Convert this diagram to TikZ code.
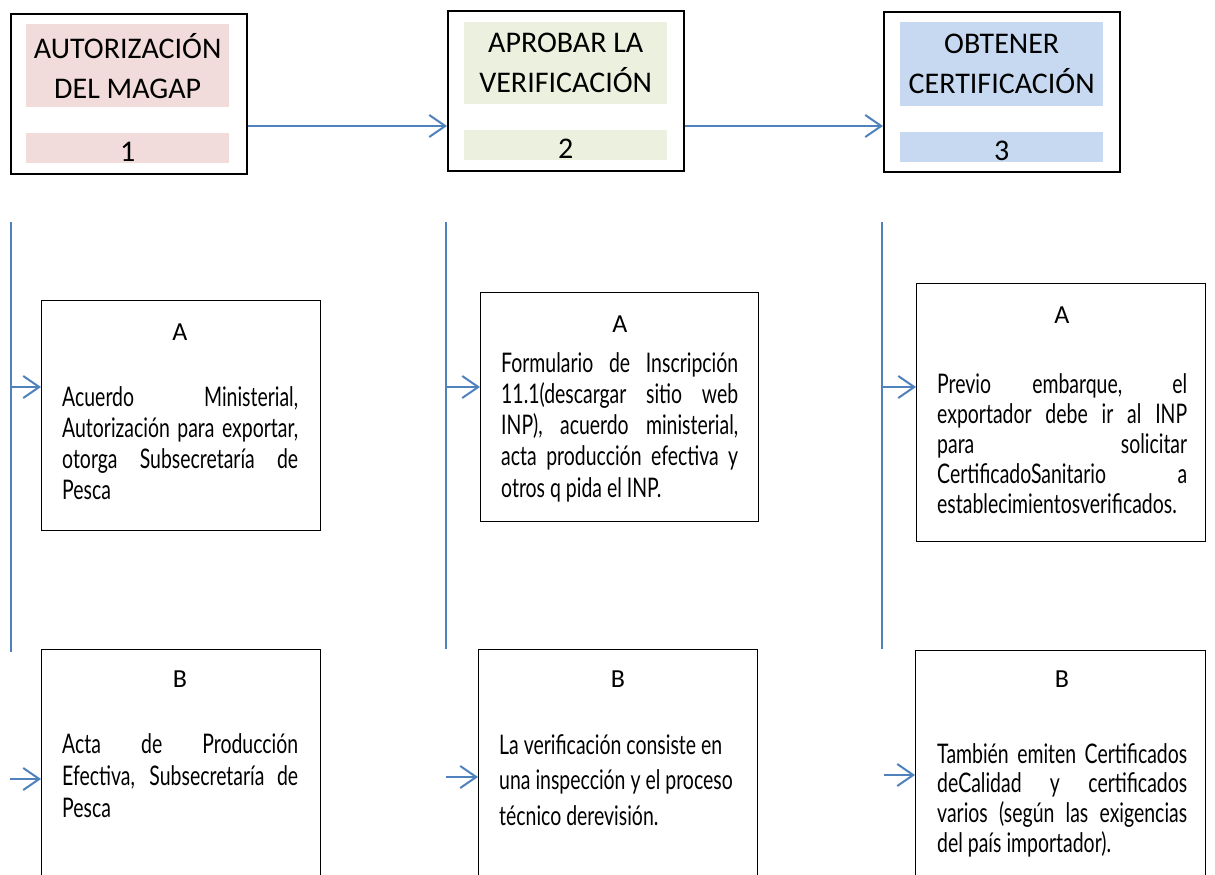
\documentclass[tikz,border=0pt]{standalone}
\usepackage{fontspec}
\setmainfont{Carlito}
\newfontfamily\agency[FakeStretch=0.72]{Lato}
\usetikzlibrary{arrows.meta}
\definecolor{pinkf}{RGB}{242,220,219}
\definecolor{greenf}{RGB}{235,241,222}
\definecolor{bluef}{RGB}{198,217,241}
\definecolor{arrowc}{RGB}{79,129,189}
\newcommand{\jl}[2]{\makebox[#1][s]{#2}}
\newcommand{\txtblock}[3]{\begin{minipage}[t]{#1}\setlength{\parindent}{0pt}\agency\fontsize{27}{#2}\selectfont #3\end{minipage}}
\begin{document}
\begin{tikzpicture}[x=1pt,y=-1pt,
  stage/.style={draw=black, line width=1.6pt, minimum width=236pt, minimum height=160pt, anchor=north west, inner sep=0pt},
  band/.style={anchor=north west, minimum width=203pt, inner sep=0pt, align=center, font=\fontsize{30}{40}\selectfont},
  numband/.style={band, minimum height=30pt, text height=26pt, text depth=0pt},
  flow/.style={draw=arrowc, line width=2pt, -{Straight Barb[length=16pt,width=22pt]}},
  rail/.style={draw=arrowc, line width=2pt},
  card/.style={draw=black, line width=1.4pt, anchor=north west, inner sep=0pt},
  letter/.style={anchor=base, inner sep=0pt, font=\fontsize{26}{30}\selectfont},
  body/.style={anchor=base west, inner sep=0pt}]
\clip (0,0) rectangle (1215,875);
\useasboundingbox (0,0) rectangle (1215,875);
\fill[white] (0,0) rectangle (1215,875);

% stage boxes
\node[stage] (s1) at (10,13) {};
\node[stage] (s2) at (447,10) {};
\node[stage] (s3) at (883,11) {};
\node[band, fill=pinkf, minimum height=83pt] (t1) at (26,24) {AUTORIZACIÓN\\DEL MAGAP};
\node[numband, fill=pinkf] (n1) at (26,133) {1};
\node[band, fill=greenf, minimum height=82pt] (t2) at (464,22) {APROBAR LA\\VERIFICACIÓN};
\node[numband, fill=greenf] (n2) at (464,130) {2};
\node[band, fill=bluef, minimum height=84pt] (t3) at (900,22) {OBTENER\\CERTIFICACIÓN};
\node[numband, fill=bluef] (n3) at (900,132) {3};

\coordinate (r) at (0,126);
\draw[flow] (s1.east |- r) -- (s2.west |- r);
\draw[flow] (s2.east |- r) -- (s3.west |- r);

% cards
\node[card, minimum width=279pt, minimum height=230pt] (a1) at (41,300) {};
\node[card, minimum width=278pt, minimum height=229pt] (a2) at (480,292) {};
\node[card, minimum width=289pt, minimum height=258pt] (a3) at (916,283) {};
\node[card, minimum width=279pt, minimum height=260pt] (b1) at (41,649) {};
\node[card, minimum width=279pt, minimum height=260pt] (b2) at (478,649) {};
\node[card, minimum width=290pt, minimum height=260pt] (b3) at (915,650) {};

\node[letter] (la1) at (180,340) {A};
\node[letter] (la2) at (620,332) {A};
\node[letter] (la3) at (1062,323) {A};
\node[letter] (lb1) at (180,687) {B};
\node[letter] (lb2) at (618,687) {B};
\node[letter] (lb3) at (1062,687) {B};

\node[body] (xa1) at (62,406) {\txtblock{236pt}{31pt}{%
\jl{236pt}{Acuerdo Ministerial,}\\
\jl{236pt}{Autorización para exportar,}\\
\jl{236pt}{otorga Subsecretaría de}\\
Pesca}};
\node[body] (xa2) at (501,372) {\txtblock{237pt}{31.3pt}{%
\jl{237pt}{Formulario de Inscripción}\\
\jl{237pt}{11.1(descargar sitio web}\\
\jl{237pt}{INP), acuerdo ministerial,}\\
\jl{237pt}{acta producción efectiva y}\\
otros q pida el INP.}};
\node[body] (xa3) at (937,393) {\txtblock{250pt}{30pt}{%
\jl{250pt}{Previo embarque, el}\\
\jl{250pt}{exportador debe ir al INP}\\
\jl{250pt}{para solicitar}\\
\jl{250pt}{CertificadoSanitario a}\\
establecimientosverificados.}};
\node[body] (xb1) at (62,753) {\txtblock{236pt}{32pt}{%
\jl{236pt}{Acta de Producción}\\
\jl{236pt}{Efectiva, Subsecretaría de}\\
Pesca}};
\node[body] (xb2) at (499,754) {\txtblock{250pt}{35.5pt}{%
La verificación consiste en\\
una inspección y el proceso\\
técnico derevisión.}};
\node[body] (xb3) at (937,763) {\txtblock{250pt}{29.7pt}{%
\jl{250pt}{También emiten Certificados}\\
\jl{250pt}{deCalidad y certificados}\\
\jl{250pt}{varios (según las exigencias}\\
del país importador).}};

% rails
\coordinate (v1t) at (11,222); \coordinate (v1b) at (11,652);
\coordinate (v2t) at (446,222); \coordinate (v2b) at (446,649);
\coordinate (v3t) at (882,222); \coordinate (v3b) at (882,649);
\draw[rail] (v1t) -- (v1b);
\draw[rail] (v2t) -- (v2b);
\draw[rail] (v3t) -- (v3b);
\coordinate (ya) at (0,387);
\draw[flow] (v1t |- ya) -- (a1.west |- ya);
\draw[flow] (v2t |- ya) -- (a2.west |- ya);
\draw[flow] (v3t |- ya) -- (a3.west |- ya);
\coordinate (e1) at (10,779);
\coordinate (e2) at (446,777);
\coordinate (e3) at (884,775);
\draw[flow] (e1) -- (b1.west |- e1);
\draw[flow] (e2) -- (b2.west |- e2);
\draw[flow] (e3) -- (b3.west |- e3);
\end{tikzpicture}
\end{document}
